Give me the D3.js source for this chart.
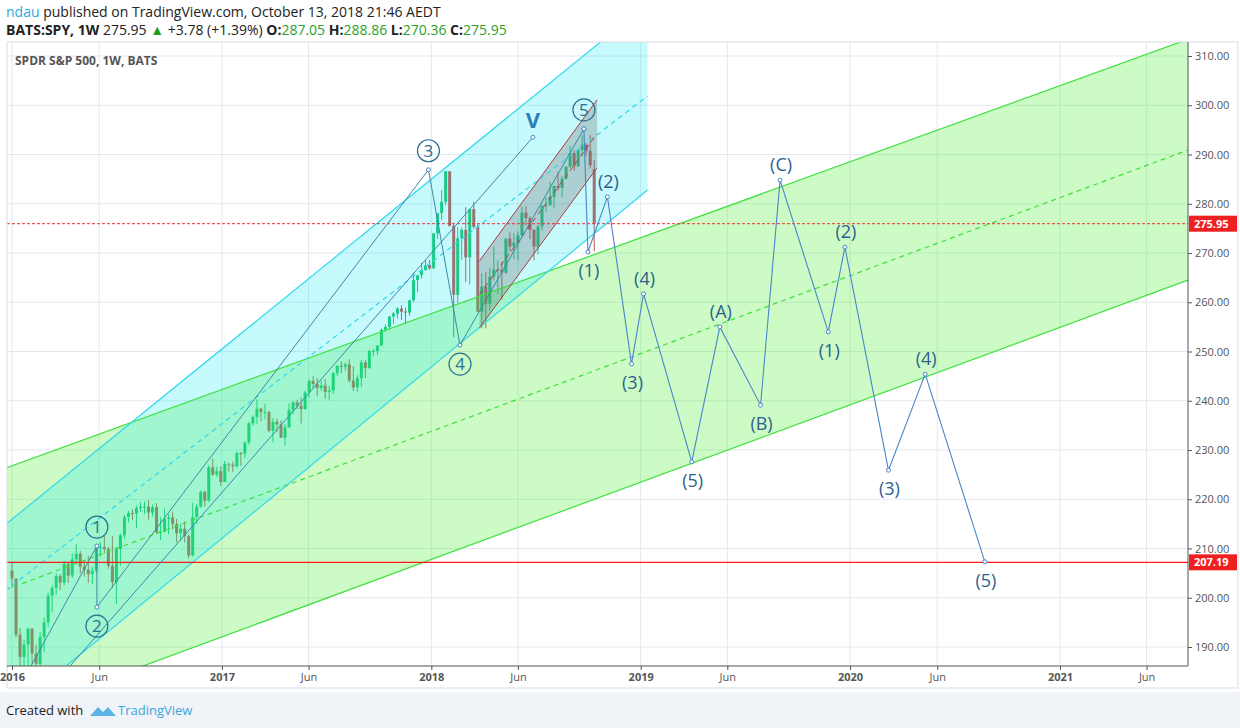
<!DOCTYPE html>
<html><head><meta charset="utf-8">
<script src="https://cdn.jsdelivr.net/npm/d3@7"></script>
<style>body{margin:0;background:#fff;font-family:"Open Sans",sans-serif}</style>
</head><body><svg id="c" width="1240" height="728"></svg>
<script>
// ---------- data ----------
const firstWeek = "2016-01-01";
const closes = [203.9,192.5,188.0,190.5,193.7,188.7,186.6,192.0,195.0,200.4,202.0,204.4,203.1,206.9,204.5,207.8,208.9,206.3,205.7,204.8,205.5,210.2,210.3,209.9,206.5,203.2,209.9,212.7,216.4,217.2,217.1,218.2,218.5,218.5,217.3,218.4,213.3,213.4,216.0,216.3,215.0,213.1,214.0,212.5,208.6,216.4,218.5,221.5,219.7,226.5,225.0,225.7,223.5,
227.2,227.0,226.7,229.4,229.3,231.5,235.4,236.7,238.4,237.7,237.7,233.9,235.7,235.2,232.5,234.6,238.1,239.7,239.0,238.3,241.7,244.0,243.4,242.6,243.1,241.8,242.1,245.6,247.1,246.9,247.4,244.1,242.7,244.6,247.8,246.6,250.1,250.1,251.2,254.4,255.0,257.1,257.7,258.7,258.1,257.9,260.4,264.5,265.5,266.5,267.5,266.9,
274.0,278.1,280.4,286.6,275.5,261.5,273.0,274.7,269.1,278.9,275.3,258.1,263.2,259.7,265.2,266.6,266.6,266.0,272.9,271.3,272.1,273.6,278.2,277.1,274.7,271.3,275.4,279.6,279.7,281.4,283.6,283.2,285.1,287.5,290.3,287.6,290.9,292.0,290.7,287.8,275.95];
const opens0 = 205.5, lastOpen = 287.05;
const highs = [207,201.9,193.9,191.5,194,193.9,190.5,193,196,201,202.5,205,204.8,207.5,207,209,210.9,209.5,207.4,208.5,206.3,210.5,211.3,212.5,210.3,212.5,210.3,213,216.8,217.6,217.9,218.7,219.4,219.5,219.8,218.9,219.2,216.3,218.1,217,217.5,216,215,215.5,212.8,219.3,219,221.8,221.8,226.9,228.3,226.6,226.7,
227.8,227.4,227.6,229.7,229.6,231.8,235.7,237,240.3,238.6,239.4,238,236.5,236.4,236,235.3,239.5,239.9,240.2,240.7,242.1,244.3,245,244.6,244.1,244.4,243,245.8,247.2,248,247.8,248.4,247,245.2,248.3,248.3,250.3,250.5,251.3,254.7,255.5,257.2,258,259,259.4,258.9,260.5,266,265.5,268,268.6,268.6,
274.1,278.1,282.8,286.6,286.6,275.9,275.3,275.2,279.3,279,280.4,276,265.9,266.2,267,271.3,268.5,268.2,273,274.2,274,274.4,279.5,279.5,277.5,274.8,275.7,279.8,281.3,284.4,283.7,286.5,285.6,287.7,291.7,290.8,291.3,293.9,292.2,293.9,288.86];
const lows = [202,191.9,186.0,181.0,185.3,186.6,181.0,186,189,194,197,200.6,201.5,202.5,203,204,206.8,205,204.3,203,202.8,205,208.4,209,205.9,202,198.7,206.5,212,215.3,215.8,214.2,217.4,217,215.9,216.5,213,211.7,213.3,212.9,213.9,211.2,211.6,211.2,208,208.4,215,218.3,218.5,219.5,224.7,224.5,222.7,
223.9,225.6,225.5,226.4,226.8,228.3,231.1,234.9,235.3,235.8,236.2,233.6,231.6,233.6,232.5,230.9,234.5,237.2,238.3,235.4,238.2,240.6,242.5,240.9,242,240.4,240.1,241.4,245,245.6,246,243.7,242,241.8,242.8,244.6,246.6,249,249.3,251.2,254,254.4,255.6,256.7,256.4,255.6,257.3,260,262,264.8,266.5,266.6,
266.8,272.8,276.7,279.7,275.4,252.9,259.9,268.6,264.1,263.6,274.8,258,254.7,254.7,258.3,264.4,261.7,260.5,265.8,270.3,268.8,268.5,273.5,275.6,272.8,268.5,269.7,274.6,278.4,279.6,279.2,282.6,281.4,284.9,287.3,286.7,287.5,289.6,289.6,287.2,270.36];

const yTicks = [190,200,210,220,230,240,250,260,270,280,290,300,310];
const xTickDates = ["2016-01-01","2016-06-01","2017-01-01","2017-06-01","2018-01-01","2018-06-01","2019-01-01","2019-06-01","2020-01-01","2020-06-01","2021-01-01","2021-06-01"];
const xTickLabels = ["2016","Jun","2017","Jun","2018","Jun","2019","Jun","2020","Jun","2021","Jun"];

// channels [date, value]
const greenUpper = [["2015-12-20",226.3],["2021-08-12",313.4]];
const greenMid   = [["2015-12-20",201.6],["2021-08-12",290.9]];
const greenLower = [["2015-12-20",175.8],["2021-08-12",264.5]];
const cyanUpper  = [["2015-12-20",214.8],["2019-01-13",320.6]];
const cyanMid    = [["2015-12-20",201.4],["2019-01-13",301.9]];
const cyanLower  = [["2015-12-20",176.0],["2019-01-13",282.8]];
const redUpper   = [["2018-03-26",268.4],["2018-10-17",301.1]];
const redLower   = [["2018-03-26",254.8],["2018-10-17",287.3]];

// impulse wave (circled)
const waveDates  = ["2016-05-28","2016-05-28","2017-12-27","2018-02-20","2018-09-24"];
const waveValues = [210.5,198.1,286.9,251.3,295.2];
const waveLabels = ["1","2","3","4","5"];
const waveAbove  = [true,false,true,false,true];
const leg0 = [["2016-02-01",185.7],["2016-05-28",210.5]];
const vLine = [["2016-04-08",185.7],["2018-06-27",293.5]];

// projection
const projDates  = ["2018-09-24","2018-10-01","2018-11-04","2018-12-16","2019-01-06","2019-03-31","2019-05-19","2019-07-29","2019-09-01","2019-11-24","2019-12-23","2020-03-08","2020-05-11","2020-08-23"];
const projValues = [295.2,270.2,281.4,247.5,261.7,227.6,255.0,239.1,284.8,254.0,271.2,225.9,245.4,207.3];
const projLabels = ["","(1)","(2)","(3)","(4)","(5)","(A)","(B)","(C)","(1)","(2)","(3)","(4)","(5)"];
const projAbove  = [true,false,true,false,true,false,true,false,true,false,true,false,true,false];

const lastPrice = 275.95, supportPrice = 207.19;

// ---------- drawing ----------
const svg = d3.select("#c");
const P = d3.timeParse("%Y-%m-%d");
const L = 7, R = 1188, T = 42, B = 666;
const x = d3.scaleTime().domain([P("2016-01-01"), P("2021-01-01")]).range([12, 1060]);
const y = d3.scaleLinear().domain([190, 310]).range([647, 56]);

svg.append("rect").attr("x",0).attr("y",0).attr("width",1240).attr("height",728).attr("fill","#fff");
svg.append("rect").attr("x",0).attr("y",692).attr("width",1240).attr("height",36).attr("fill","#f0f3f7");
svg.append("defs").append("clipPath").attr("id","pc").append("rect").attr("x",L).attr("y",T).attr("width",R-L).attr("height",B-T);

const g = svg.append("g").attr("clip-path","url(#pc)");
g.selectAll(".vg").data(xTickDates).join("line").attr("x1",d=>x(P(d))).attr("x2",d=>x(P(d))).attr("y1",T).attr("y2",B).attr("stroke","#e3e8ef");
g.selectAll(".hg").data(yTicks).join("line").attr("x1",L).attr("x2",R).attr("y1",d=>y(d)).attr("y2",d=>y(d)).attr("stroke","#e3e8ef");

const start = P(firstWeek);
const candles = closes.map((c,i)=>({d:d3.timeDay.offset(start,i*7),o:i===0?opens0:(i===closes.length-1?lastOpen:closes[i-1]),c,h:highs[i],l:lows[i]}));
const cg = g.append("g");
cg.selectAll("line").data(candles).join("line").attr("x1",d=>x(d.d)).attr("x2",d=>x(d.d)).attr("y1",d=>y(d.h)).attr("y2",d=>y(d.l))
  .attr("stroke",d=>d.c>=d.o?"#1fc46a":"#c8504d").attr("stroke-width",1);
cg.selectAll("rect").data(candles).join("rect").attr("x",d=>x(d.d)-1.5).attr("width",3)
  .attr("y",d=>y(Math.max(d.o,d.c))).attr("height",d=>Math.max(1,Math.abs(y(d.o)-y(d.c))))
  .attr("fill",d=>d.c>=d.o?"#1fc46a":"#c8504d");

const pt = a=>[x(P(a[0])),y(a[1])];
const poly = (pts,fill)=>g.append("polygon").attr("points",pts.map(p=>pt(p).join(",")).join(" ")).attr("fill",fill);
const line = (a,col,dash,w)=>g.append("line").attr("x1",pt(a[0])[0]).attr("y1",pt(a[0])[1]).attr("x2",pt(a[1])[0]).attr("y2",pt(a[1])[1])
  .attr("stroke",col).attr("stroke-width",w||1).attr("stroke-dasharray",dash||null);

poly([greenUpper[0],greenUpper[1],greenLower[1],greenLower[0]],"rgba(60,240,30,0.26)");
poly([cyanUpper[0],cyanUpper[1],cyanLower[1],cyanLower[0]],"rgba(0,230,245,0.22)");
poly([redUpper[0],redUpper[1],redLower[1],redLower[0]],"rgba(110,110,110,0.3)");
line(greenUpper,"#3ee03e",null,1.2); line(greenLower,"#3ee03e",null,1.2); line(greenMid,"#3ee03e","5,4",1.2);
line(cyanUpper,"#2fd8ee",null,1.2); line(cyanLower,"#2fd8ee",null,1.2); line(cyanMid,"#2fd8ee","5,4",1.2);
line(redUpper,"#b23a3a"); line(redLower,"#b23a3a");
line([[redUpper[0][0],(redUpper[0][1]+redLower[0][1])/2],[redUpper[1][0],(redUpper[1][1]+redLower[1][1])/2]],"#b23a3a","5,4");

g.append("line").attr("x1",L).attr("x2",R).attr("y1",y(lastPrice)).attr("y2",y(lastPrice)).attr("stroke","#f03030").attr("stroke-dasharray","3,2");
g.append("line").attr("x1",L).attr("x2",R).attr("y1",y(supportPrice)).attr("y2",y(supportPrice)).attr("stroke","#ff1a1a").attr("stroke-width",1.2);

const blue = "#4a86c8";
line(leg0,"#3a8aa8"); line(vLine,"#3a8aa8");
const wpts = waveDates.map((d,i)=>[x(P(d)),y(waveValues[i])]);
g.append("path").attr("d",d3.line()(wpts)).attr("fill","none").attr("stroke","#3a8aa8");
const ppts = projDates.map((d,i)=>[x(P(d)),y(projValues[i])]);
g.append("path").attr("d",d3.line()(ppts)).attr("fill","none").attr("stroke",blue).attr("stroke-width",1.1);
g.selectAll(".vx").data(wpts.concat(ppts,[pt(vLine[1])])).join("circle").attr("cx",d=>d[0]).attr("cy",d=>d[1]).attr("r",2).attr("fill","#fff").attr("stroke",blue);

waveLabels.forEach((t,i)=>{
  const cx = wpts[i][0], cy = wpts[i][1] + (waveAbove[i]?-19:19);
  g.append("circle").attr("cx",cx).attr("cy",cy).attr("r",11).attr("fill","none").attr("stroke","#2a6f90").attr("stroke-width",1.2);
  g.append("text").attr("x",cx).attr("y",cy+6).attr("text-anchor","middle").attr("font-size",17).attr("fill","#2a6f90").text(t);
});
projLabels.forEach((t,i)=>{ if(!t) return;
  g.append("text").attr("x",ppts[i][0]+1).attr("y",ppts[i][1]+(projAbove[i]?-9:25)).attr("text-anchor","middle").attr("font-size",18).attr("fill","#2d5f8e").text(t);
});
g.append("text").attr("x",pt(vLine[1])[0]).attr("y",pt(vLine[1])[1]-9).attr("text-anchor","middle").attr("font-size",22).attr("font-weight","bold").attr("fill","#2a7fb8").text("V");

svg.append("rect").attr("x",L).attr("y",T).attr("width",1231).attr("height",646).attr("fill","none").attr("stroke","#d6dbe3");
svg.append("line").attr("x1",L).attr("x2",R).attr("y1",B).attr("y2",B).attr("stroke","#555");
svg.append("line").attr("x1",R).attr("x2",R).attr("y1",T).attr("y2",B).attr("stroke","#555");
const ya = svg.append("g").attr("transform",`translate(${R},0)`).call(d3.axisRight(y).tickValues(yTicks).tickFormat(d3.format(".2f")).tickSize(4));
ya.select(".domain").remove();
ya.selectAll("text").attr("font-size",11).attr("fill","#555").attr("font-family","Open Sans");
ya.selectAll("line").attr("stroke","#555");
const xa = svg.append("g").attr("transform",`translate(0,${B})`).call(d3.axisBottom(x).tickValues(xTickDates.map(P)).tickFormat((d,i)=>xTickLabels[i]).tickSize(4));
xa.select(".domain").remove();
xa.selectAll("text").attr("font-size",11).attr("fill","#555").attr("font-family","Open Sans").attr("font-weight",(d,i)=>xTickLabels[i]==="Jun"?"normal":"bold");
xa.selectAll("line").attr("stroke","#555");

[[lastPrice,"275.95"],[supportPrice,"207.19"]].forEach(([v,t])=>{
  svg.append("rect").attr("x",R+1).attr("y",y(v)-8).attr("width",48).attr("height",16).attr("fill","#f02020");
  svg.append("text").attr("x",R+6).attr("y",y(v)+4).attr("font-size",11).attr("font-weight","bold").attr("fill","#fff").text(t);
});

const h1 = svg.append("text").attr("x",6).attr("y",17).attr("font-size",14);
h1.append("tspan").attr("fill","#2aa8e0").text("ndau");
h1.append("tspan").attr("fill","#222").text(" published on TradingView.com, October 13, 2018 21:46 AEDT");
const h2 = svg.append("text").attr("x",6).attr("y",35).attr("font-size",14).attr("fill","#222");
h2.append("tspan").attr("font-weight","bold").text("BATS:SPY, 1W ");
h2.append("tspan").text(" 275.95 ");
h2.append("tspan").attr("fill","#1aa01a").text("▲");
h2.append("tspan").text(" +3.78 (+1.39%) ");
[["O:","287.05"],["H:","288.86"],["L:","270.36"],["C:","275.95"]].forEach(([k,v])=>{
  h2.append("tspan").attr("font-weight","bold").text(" "+k);
  h2.append("tspan").attr("fill","#2ca02c").text(v);
});
svg.append("text").attr("x",15).attr("y",65).attr("font-size",12).attr("font-weight","bold").attr("fill","#555").text("SPDR S&P 500, 1W, BATS");

svg.append("text").attr("x",6).attr("y",715).attr("font-size",13).attr("fill","#222").text("Created with");
svg.append("path").attr("d","M90,716 l8,-9 l5,5 l5,-5 l8,9 z").attr("fill","#5ab4e6");
svg.append("text").attr("x",118).attr("y",715).attr("font-size",13).attr("fill","#3aa6e0").text("TradingView");
</script></body></html>
